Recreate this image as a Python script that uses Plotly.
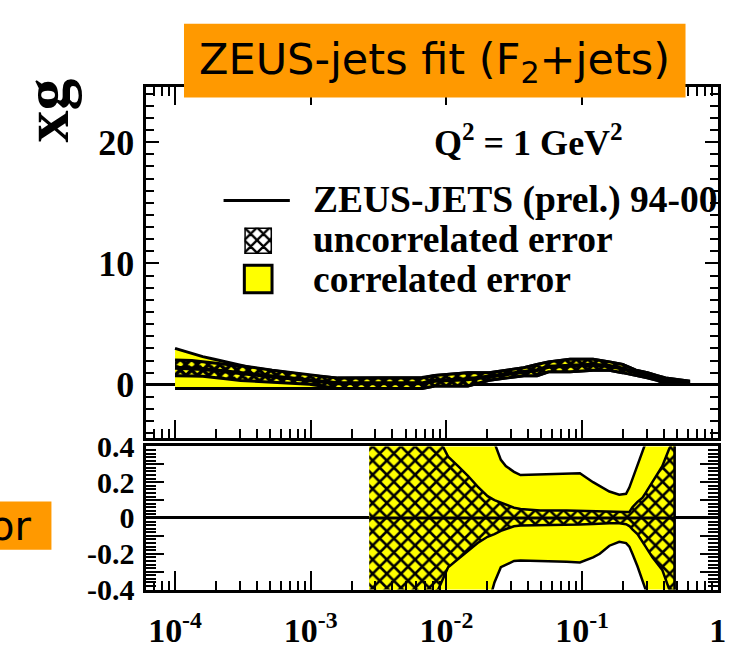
import plotly.graph_objects as go

W, H = 741, 653

# ---------------- data ----------------
# upper panel: xg at Q^2 = 1 GeV^2
x_top = [1.0e-4, 1.33e-4, 1.6e-4, 1.95e-4, 2.36e-4, 3.04e-4, 3.7e-4, 5.2e-4, 6.65e-4,
         9.8e-4, 1.58e-3, 3.0e-3, 6.6e-3, 8.2e-3, 0.0144, 0.0207, 0.0282, 0.0372,
         0.0466, 0.0566, 0.0815, 0.1205, 0.159, 0.199, 0.249, 0.303, 0.358, 0.412, 0.61]
corr_hi_top = [3.0, 2.58, 2.32, 2.11, 1.88, 1.61, 1.41, 1.2, 1.02, 0.76, 0.55, 0.55, 0.6,
               0.76, 1.0, 1.0, 1.2, 1.4, 1.67, 1.89, 2.11, 2.11, 1.89, 1.67, 1.2, 1.0,
               0.76, 0.57, 0.31]
corr_lo_top = [-0.3, -0.3, -0.3, -0.3, -0.3, -0.3, -0.3, -0.3, -0.3, -0.3, -0.3, -0.3,
               -0.3, -0.1, -0.1, 0.37, 0.57, 0.75, 0.75, 1.07, 1.07, 1.2, 1.2, 1.0, 0.8,
               0.57, 0.37, 0.1, 0.05]
unc_hi_top = [2.05, 2.0, 1.9, 1.8, 1.7, 1.55, 1.45, 1.2, 1.05, 0.8, 0.55, 0.55, 0.55,
              0.76, 1.0, 1.0, 1.2, 1.4, 1.67, 1.89, 2.11, 2.11, 1.89, 1.67, 1.2, 1.0,
              0.76, 0.57, 0.31]
unc_lo_top = [0.75, 0.72, 0.7, 0.6, 0.5, 0.35, 0.25, 0.2, 0.15, 0.05, -0.3, -0.3, -0.3,
              -0.1, -0.1, 0.37, 0.57, 0.75, 0.75, 1.07, 1.07, 1.2, 1.2, 1.0, 0.8, 0.57,
              0.37, 0.1, 0.05]
central_top = [1.4, 1.36, 1.3, 1.2, 1.1, 0.95, 0.85, 0.7, 0.6, 0.42, 0.12, 0.12, 0.12,
               0.33, 0.45, 0.68, 0.88, 1.07, 1.21, 1.48, 1.59, 1.65, 1.55, 1.33, 1.0,
               0.78, 0.56, 0.33, 0.18]

# lower panel: relative errors
x_rel = [2.7e-3, 5e-3, 8.7e-3, 0.0103, 0.0122, 0.0144, 0.017, 0.0201, 0.0226, 0.0252,
         0.0274, 0.0315, 0.0352, 0.044, 0.0492, 0.077, 0.0964, 0.1205, 0.135, 0.159,
         0.188, 0.211, 0.223, 0.235, 0.256, 0.279, 0.294, 0.33, 0.39, 0.435, 0.46, 0.48]
unc_hi_rel = [0.5, 0.5, 0.45, 0.343, 0.29, 0.236, 0.175, 0.122, 0.1, 0.086, 0.072, 0.057,
              0.05, 0.042, 0.042, 0.042, 0.041, 0.04, 0.04, 0.037, 0.035, 0.034, 0.033,
              0.06, 0.09, 0.113, 0.14, 0.2, 0.29, 0.38, 0.42, 0.45]
unc_lo_rel = [-0.5, -0.5, -0.4, -0.275, -0.23, -0.187, -0.14, -0.105, -0.09, -0.072,
              -0.062, -0.046, -0.042, -0.037, -0.037, -0.037, -0.036, -0.033, -0.03, -0.03,
              -0.03, -0.035, -0.045, -0.064, -0.09, -0.134, -0.16, -0.22, -0.29, -0.39,
              -0.45, -0.5]
corr_hi_rel = [0.5, 0.5, 0.5, 0.5, 0.5, 0.5, 0.5, 0.5, 0.42, 0.325, 0.29, 0.258, 0.24,
               0.243, 0.245, 0.248, 0.25, 0.2, 0.18, 0.148, 0.13, 0.135, 0.17, 0.22, 0.29,
               0.38, 0.42, 0.5, 0.5, 0.5, 0.5, 0.5]
corr_lo_rel = [-0.5, -0.5, -0.5, -0.5, -0.5, -0.5, -0.5, -0.5, -0.36, -0.275, -0.26, -0.24,
               -0.237, -0.238, -0.24, -0.245, -0.249, -0.22, -0.2, -0.155, -0.133, -0.14,
               -0.16, -0.2, -0.27, -0.35, -0.4, -0.5, -0.5, -0.5, -0.5, -0.5]
central_rel = [0.0] * len(x_rel)

x_tickvals = [1e-4, 1e-3, 1e-2, 1e-1, 1]
x_ticktext = ["10<sup>-4</sup>", "10<sup>-3</sup>", "10<sup>-2</sup>", "10<sup>-1</sup>", "1"]
y_top_ticks = [0, 10, 20]
y_rel_ticks = [-0.4, -0.3, -0.2, -0.1, 0, 0.1, 0.2, 0.3, 0.4]
y_rel_text = ["-0.4", " ", "-0.2", " ", "0", " ", "0.2", " ", "0.4"]

legend_labels = ["ZEUS-JETS (prel.) 94-00", "uncorrelated error", "correlated error"]

# ---------------- helpers ----------------
def px(x):
    return x / W

def py(y):
    return 1 - y / H

YELLOW = "#FFFF00"
SERIF = "Liberation Serif"

def band(x, lo, hi, xa, ya, **kw):
    return go.Scatter(x=list(x) + list(x)[::-1], y=list(hi) + list(lo)[::-1],
                      xaxis=xa, yaxis=ya, mode="lines", fill="toself",
                      showlegend=False, hoverinfo="skip", **kw)

fig = go.Figure()

# upper panel
fig.add_trace(band(x_top, corr_lo_top, corr_hi_top, "x", "y",
                   fillcolor=YELLOW, line=dict(color="black", width=3)))
fig.add_trace(band(x_top, unc_lo_top, unc_hi_top, "x", "y",
                   fillcolor=YELLOW,
                   fillpattern=dict(shape="x", fgcolor="black", bgcolor=YELLOW,
                                    fgopacity=1, size=8, solidity=0.7),
                   line=dict(color="black", width=3)))
fig.add_trace(go.Scatter(x=x_top, y=central_top, xaxis="x", yaxis="y", mode="lines",
                         line=dict(color="black", width=4), showlegend=False))

# lower panel
fig.add_trace(band(x_rel, corr_lo_rel, corr_hi_rel, "x2", "y2",
                   fillcolor=YELLOW, line=dict(color="black", width=2.5)))
fig.add_trace(band(x_rel, unc_lo_rel, unc_hi_rel, "x2", "y2",
                   fillcolor=YELLOW,
                   fillpattern=dict(shape="x", fgcolor="black", bgcolor=YELLOW,
                                    fgopacity=1, size=10, solidity=0.45),
                   line=dict(color="black", width=2.5)))
fig.add_trace(go.Scatter(x=x_rel, y=central_rel, xaxis="x2", yaxis="y2", mode="lines",
                         line=dict(color="black", width=3), showlegend=False))

# legend swatch for hatched box (auxiliary invisible axes)
fig.add_trace(go.Scatter(x=[0, 1, 1, 0, 0], y=[0, 0, 1, 1, 0], xaxis="x3", yaxis="y3",
                         mode="lines", fill="toself", fillcolor="white",
                         fillpattern=dict(shape="x", fgcolor="black", bgcolor="white",
                                          fgopacity=1, size=9, solidity=0.45),
                         line=dict(color="black", width=3), showlegend=False,
                         hoverinfo="skip"))

minor_x = [k * 10.0 ** d for d in range(-5, 0) for k in range(2, 10)]
x_range = [-4.211, 0.003]
xdom = [px(148), px(726)]

common_x = dict(type="log", range=x_range, domain=xdom, showgrid=False,
                showline=True, linewidth=3, linecolor="black",
                tickmode="array", tickvals=x_tickvals, ticks="inside",
                tickwidth=2, tickcolor="black",
                minor=dict(tickmode="array", tickvals=minor_x, ticks="inside",
                           ticklen=9, tickwidth=2, tickcolor="black", showgrid=False))

fig.update_layout(
    width=W, height=H, margin=dict(l=0, r=0, t=0, b=0),
    paper_bgcolor="white", plot_bgcolor="white", showlegend=False,
    xaxis=dict(common_x, anchor="y", showticklabels=False, ticklen=18, mirror="ticks"),
    yaxis=dict(domain=[py(444), py(74)], range=[-4.375, 24.53], showgrid=False,
               showline=True, linewidth=3, linecolor="black", mirror="ticks",
               tickmode="array", tickvals=y_top_ticks, ticks="inside", ticklen=13,
               tickwidth=2, tickcolor="black", ticklabelstandoff=2,
               tickfont=dict(family=SERIF, size=36, color="black", weight="bold"),
               zeroline=True, zerolinecolor="black", zerolinewidth=3,
               minor=dict(dtick=1, ticks="inside", ticklen=8, tickwidth=2,
                          tickcolor="black", showgrid=False)),
    xaxis2=dict(common_x, anchor="y2", ticktext=x_ticktext, ticklen=19, mirror=True,
                ticklabelstandoff=9,
                tickfont=dict(family=SERIF, size=34, color="black", weight="bold")),
    yaxis2=dict(domain=[py(604), py(453)], range=[-0.4, 0.4], showgrid=False,
                showline=True, linewidth=3, linecolor="black", mirror="ticks",
                tickmode="array", tickvals=y_rel_ticks, ticktext=y_rel_text,
                ticks="inside", ticklen=18, tickwidth=2, tickcolor="black",
                ticklabelstandoff=3,
                tickfont=dict(family=SERIF, size=30, color="black", weight="bold"),
                zeroline=True, zerolinecolor="black", zerolinewidth=3,
                minor=dict(dtick=0.02, ticks="inside", ticklen=10, tickwidth=2,
                           tickcolor="black", showgrid=False)),
    xaxis3=dict(domain=[px(247), px(275)], range=[0, 1], visible=False, anchor="y3"),
    yaxis3=dict(domain=[py(250), py(222)], range=[0, 1], visible=False, anchor="x3"),
)

shapes = [
    # title box
    dict(type="rect", xref="paper", yref="paper", x0=px(186), x1=px(693),
         y0=py(85), y1=py(7), fillcolor="#FF9900", line=dict(width=0), layer="above"),
    # left box
    dict(type="rect", xref="paper", yref="paper", x0=0, x1=px(52),
         y0=py(562), y1=py(511), fillcolor="#FF9900", line=dict(width=0), layer="above"),
    # legend line
    dict(type="line", xref="paper", yref="paper", x0=px(226), x1=px(293),
         y0=py(193.5), y1=py(193.5), line=dict(color="black", width=3)),
    # legend yellow box
    dict(type="rect", xref="paper", yref="paper", x0=px(247), x1=px(275),
         y0=py(291), y1=py(262), fillcolor=YELLOW, line=dict(color="black", width=3)),
]
fig.update_layout(shapes=shapes)

bold_serif = lambda s: dict(family=SERIF, size=s, color="black", weight="bold")
ann = [
    dict(text="ZEUS-jets fit (F<sub>2</sub>+jets)", x=px(439), y=py(47),
         font=dict(family="DejaVu Sans", size=43, color="black")),
    dict(text="or", x=px(33), y=py(537), xanchor="right",
         font=dict(family="DejaVu Sans", size=40, color="black")),
    dict(text="Q<sup>2</sup> = 1 GeV<sup>2</sup>", x=px(534), y=py(130), font=bold_serif(36)),
    dict(text="xg", x=px(47), y=py(98), textangle=-90, font=bold_serif(64)),
]
for i, (lab, yc) in enumerate(zip(legend_labels, [193, 235, 277])):
    ann.append(dict(text=lab, x=px(314), y=py(yc), xanchor="left", font=bold_serif(37.5)))
for a in ann:
    a.setdefault("xanchor", "center")
    a.update(xref="paper", yref="paper", yanchor="middle", showarrow=False)
fig.update_layout(annotations=ann)

fig.write_html("out.html")
